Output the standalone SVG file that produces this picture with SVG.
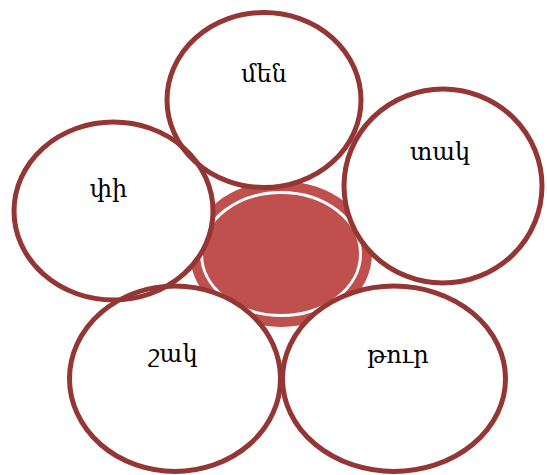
<svg xmlns="http://www.w3.org/2000/svg" width="547" height="475" viewBox="0 0 547 475">
<style>
.bg{fill:#ffffff;stroke:none}
.sat{fill:none;stroke:#943634;stroke-width:5}
.lbl{font-family:"DejaVu Serif","Noto Sans",serif;font-size:24px;fill:#000000;text-anchor:middle}
</style>
<rect width="547" height="475" fill="#ffffff"/>
<g id="center">
<ellipse cx="281" cy="254" rx="91" ry="73" fill="#C0504D"/>
<ellipse cx="281" cy="254" rx="79.5" ry="61.5" fill="#C0504D" stroke="#ffffff" stroke-width="3"/>
</g>
<g id="satellite-fills">
<ellipse class="bg" cx="264" cy="100" rx="97" ry="87.5"/>
<ellipse class="bg" cx="443" cy="186" rx="99" ry="97"/>
<ellipse class="bg" cx="113.5" cy="211" rx="99.5" ry="89"/>
<ellipse class="bg" cx="175" cy="378.7" rx="105.5" ry="92.7"/>
<ellipse class="bg" cx="394" cy="378.7" rx="111.5" ry="92.7"/>
</g>
<g id="node-men">
<ellipse class="sat" cx="264" cy="100" rx="97" ry="87.5"/>
<text class="lbl" x="264" y="82">մեն</text>
</g>
<g id="node-tak">
<ellipse class="sat" cx="443" cy="186" rx="99" ry="97"/>
<text class="lbl" x="440" y="160">տակ</text>
</g>
<g id="node-pi">
<ellipse class="sat" cx="113.5" cy="211" rx="99.5" ry="89"/>
<text class="lbl" x="108.5" y="197">փի</text>
</g>
<g id="node-shak">
<ellipse class="sat" cx="175" cy="378.7" rx="105.5" ry="92.7"/>
<text class="lbl" x="173" y="362">շակ</text>
</g>
<g id="node-tur">
<ellipse class="sat" cx="394" cy="378.7" rx="111.5" ry="92.7"/>
<text class="lbl" x="398" y="363">թուր</text>
</g>
<g id="connectors"></g>
</svg>
